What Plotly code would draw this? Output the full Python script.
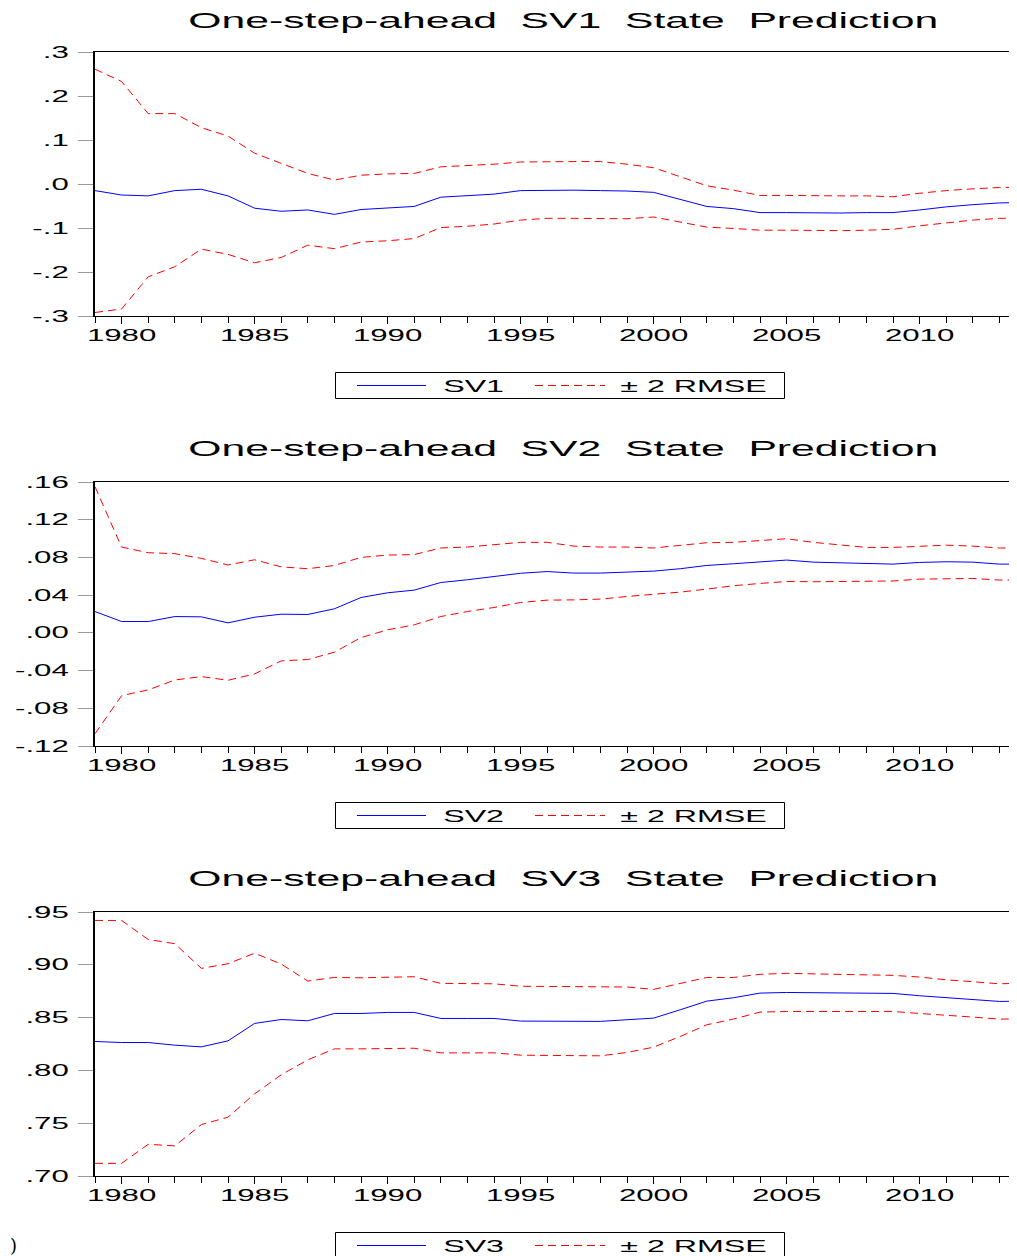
import plotly.graph_objects as go

years = list(range(1979, 2015))

sv1 = [-0.015, -0.025, -0.027, -0.015, -0.012, -0.027, -0.055, -0.062, -0.059, -0.069,
       -0.058, -0.054, -0.051, -0.030, -0.027, -0.023, -0.015, -0.014, -0.014, -0.015,
       -0.016, -0.019, -0.035, -0.051, -0.056, -0.065, -0.065, -0.066, -0.066, -0.065,
       -0.065, -0.059, -0.052, -0.047, -0.043, -0.042]
sv1_up = [0.261, 0.233, 0.160, 0.160, 0.128, 0.109, 0.070, 0.047, 0.024, 0.009,
          0.020, 0.023, 0.024, 0.039, 0.042, 0.045, 0.050, 0.051, 0.051, 0.051,
          0.045, 0.037, 0.017, -0.004, -0.014, -0.026, -0.026, -0.027, -0.027, -0.027,
          -0.029, -0.021, -0.015, -0.011, -0.008, -0.007]
sv1_lo = [-0.292, -0.284, -0.211, -0.188, -0.148, -0.160, -0.179, -0.167, -0.139, -0.147,
          -0.132, -0.129, -0.124, -0.099, -0.096, -0.091, -0.082, -0.078, -0.078, -0.079,
          -0.079, -0.075, -0.086, -0.098, -0.101, -0.105, -0.105, -0.106, -0.106, -0.105,
          -0.103, -0.095, -0.088, -0.082, -0.078, -0.077]

sv2 = [0.0226, 0.012, 0.012, 0.0173, 0.017, 0.0106, 0.0166, 0.0198, 0.0195, 0.0255,
       0.0375, 0.0425, 0.0453, 0.0534, 0.0563, 0.0598, 0.0632, 0.065, 0.0634, 0.0634,
       0.0644, 0.0655, 0.068, 0.0715, 0.0733, 0.0754, 0.0772, 0.075, 0.0743, 0.0729,
       0.0729, 0.0747, 0.0754, 0.075, 0.0729, 0.0729]
sv2_up = [0.155, 0.091, 0.085, 0.084, 0.079, 0.072, 0.0775, 0.070, 0.068, 0.0715,
          0.080, 0.0825, 0.083, 0.090, 0.091, 0.0935, 0.096, 0.096, 0.092, 0.091,
          0.091, 0.090, 0.093, 0.0956, 0.096, 0.0977, 0.0998, 0.096, 0.0935, 0.0906,
          0.0906, 0.092, 0.093, 0.092, 0.090, 0.090]
sv2_lo = [-0.107, -0.0666, -0.0605, -0.050, -0.0464, -0.0503, -0.0436, -0.0297, -0.0283, -0.0205,
          -0.005, 0.0032, 0.0085, 0.0173, 0.0226, 0.0269, 0.0322, 0.0347, 0.035, 0.0358,
          0.0386, 0.041, 0.0432, 0.0464, 0.050, 0.0524, 0.0545, 0.0542, 0.0542, 0.0545,
          0.055, 0.057, 0.0577, 0.0577, 0.056, 0.056]

sv3 = [0.8274, 0.8264, 0.8264, 0.8239, 0.8223, 0.828, 0.8445, 0.8482, 0.847, 0.8539,
       0.8539, 0.8549, 0.8549, 0.8492, 0.8492, 0.8492, 0.8467, 0.8467, 0.8464, 0.8464,
       0.848, 0.8495, 0.8574, 0.8656, 0.8688, 0.8732, 0.8738, 0.8735, 0.8732, 0.8732,
       0.8729, 0.8707, 0.8688, 0.8669, 0.8653, 0.8656]
sv3_up = [0.942, 0.942, 0.924, 0.920, 0.8966, 0.901, 0.911, 0.9007, 0.8846, 0.888,
          0.8877, 0.8884, 0.8887, 0.8824, 0.8824, 0.882, 0.8797, 0.8795, 0.8793, 0.879,
          0.879, 0.8767, 0.8827, 0.888, 0.888, 0.891, 0.8919, 0.8916, 0.891, 0.8906,
          0.890, 0.8884, 0.8858, 0.884, 0.882, 0.8827]
sv3_lo = [0.712, 0.712, 0.730, 0.7285, 0.7487, 0.7557, 0.7778, 0.7958, 0.81, 0.8204,
          0.8204, 0.821, 0.821, 0.8166, 0.8166, 0.8166, 0.8144, 0.8144, 0.8141, 0.8138,
          0.817, 0.822, 0.8321, 0.8432, 0.8486, 0.8552, 0.8558, 0.8558, 0.8555, 0.8552,
          0.8558, 0.8539, 0.8524, 0.8505, 0.8486, 0.8489]

series_names = ["SV1", "SV2", "SV3"]
titles = ["One-step-ahead  SV1  State  Prediction",
          "One-step-ahead  SV2  State  Prediction",
          "One-step-ahead  SV3  State  Prediction"]
band_label = "± 2 RMSE"

ytick_vals = [
    [0.3, 0.2, 0.1, 0.0, -0.1, -0.2, -0.3],
    [0.16, 0.12, 0.08, 0.04, 0.00, -0.04, -0.08, -0.12],
    [0.95, 0.90, 0.85, 0.80, 0.75, 0.70],
]
ytick_text = [
    [".3", ".2", ".1", ".0", "-.1", "-.2", "-.3"],
    [".16", ".12", ".08", ".04", ".00", "-.04", "-.08", "-.12"],
    [".95", ".90", ".85", ".80", ".75", ".70"],
]

# The page body keeps its default 8px margin (top/left), so the figure starts
# 8px into the window; it runs on to the window's right and bottom edges.
OFF = 8
W, H = 1017 - OFF, 1256 - OFF
FONT = "Arial, Liberation Sans, sans-serif"
BLUE = "#0000ff"
RED = "#ff0000"
DASH = "8px,5px"

plot_left_ref = 95
px_per_year = 26.6
x_range = [1979, 1979 + (W + OFF - plot_left_ref) / px_per_year]

panels = [(sv1, sv1_up, sv1_lo), (sv2, sv2_up, sv2_lo), (sv3, sv3_up, sv3_lo)]
for s in panels:
    for arr in s:
        assert len(arr) == len(years)

panel_tops = [52, 482, 912]
panel_h = 264
title_y = [21, 448, 878]
legend_y = [385.5, 815.5, 1245.5]


def px(x):
    return (x - OFF) / W


def py(y):
    return 1 - (y - OFF) / H


fig = go.Figure()
layout = dict(
    width=W, height=H,
    margin=dict(l=0, r=0, t=0, b=0, autoexpand=False),
    paper_bgcolor="white", plot_bgcolor="white",
    showlegend=False,
    font=dict(family=FONT, color="black"),
)
shapes = []
annotations = []

for i, (mid, up, lo) in enumerate(panels):
    k = "" if i == 0 else str(i + 1)
    xa, ya = "x" + k, "y" + k
    fig.add_trace(go.Scatter(x=years, y=up, mode="lines", xaxis=xa, yaxis=ya,
                             line=dict(color=RED, width=1, dash=DASH), name=band_label))
    fig.add_trace(go.Scatter(x=years, y=lo, mode="lines", xaxis=xa, yaxis=ya,
                             line=dict(color=RED, width=1, dash=DASH), name=band_label))
    fig.add_trace(go.Scatter(x=years, y=mid, mode="lines", xaxis=xa, yaxis=ya,
                             line=dict(color=BLUE, width=1), name=series_names[i]))
    top, bot = panel_tops[i], panel_tops[i] + panel_h
    layout["xaxis" + k] = dict(
        domain=[px(plot_left_ref), 1], range=x_range, anchor=ya, automargin=False,
        showline=True, linecolor="black", linewidth=1, mirror=True,
        showgrid=False, zeroline=False,
        ticks="outside", ticklen=7, tickcolor="black", tickwidth=1,
        tickmode="linear", tick0=1980, dtick=5,
        minor=dict(ticks="outside", ticklen=6, tickcolor="black", tickwidth=1,
                   tickmode="linear", tick0=1979, dtick=1, showgrid=False),
        tickfont=dict(family=FONT, size=16, color="black"),
        ticklabelstandoff=-2,
    )
    yv = ytick_vals[i]
    layout["yaxis" + k] = dict(
        domain=[py(bot), py(top)], range=[min(yv), max(yv)], anchor=xa, automargin=False,
        showline=True, linecolor="black", linewidth=2,
        showgrid=False, zeroline=False,
        ticks="outside", ticklen=15, tickcolor="#999999", tickwidth=1,
        tickmode="array", tickvals=yv, ticktext=ytick_text[i],
        tickfont=dict(family=FONT, size=16, color="black"),
        ticklabelstandoff=6,
    )
    annotations.append(dict(
        text=titles[i], xref="paper", yref="paper", x=px(563), y=py(title_y[i]),
        xanchor="center", yanchor="middle", showarrow=False,
        font=dict(family=FONT, size=21.9, color="black")))
    # legend box drawn by hand, like the reference's long line samples
    ly = legend_y[i]
    shapes.append(dict(type="rect", xref="paper", yref="paper",
                       x0=px(335.5), x1=px(784.5), y0=py(ly + 13), y1=py(ly - 13),
                       line=dict(color="black", width=1), fillcolor="white"))
    shapes.append(dict(type="line", xref="paper", yref="paper",
                       x0=px(357), x1=px(426), y0=py(ly), y1=py(ly),
                       line=dict(color=BLUE, width=1)))
    shapes.append(dict(type="line", xref="paper", yref="paper",
                       x0=px(535), x1=px(605), y0=py(ly), y1=py(ly),
                       line=dict(color=RED, width=1, dash=DASH)))
    annotations.append(dict(
        text=series_names[i], xref="paper", yref="paper", x=px(473.5), y=py(ly),
        xanchor="center", yanchor="middle", showarrow=False,
        font=dict(family=FONT, size=16.5, color="black")))
    annotations.append(dict(
        text=band_label, xref="paper", yref="paper", x=px(693.5), y=py(ly),
        xanchor="center", yanchor="middle", showarrow=False,
        font=dict(family=FONT, size=16.5, color="black")))

annotations.append(dict(
    text=")", xref="paper", yref="paper", x=0, y=py(1245),
    xanchor="left", yanchor="middle", showarrow=False,
    font=dict(family="DejaVu Serif, serif", size=18, color="black")))

layout["shapes"] = shapes
layout["annotations"] = annotations
fig.update_layout(**layout)

# The reference text is drawn horizontally stretched; reproduce that width.
post = """
var gd = document.getElementById('{plot_id}');
var sel = '.xtick text, .x2tick text, .x3tick text, .ytick text, .y2tick text, .y3tick text, .annotation-text';
gd.querySelectorAll(sel).forEach(function(t){
  if (t.textContent === ')') return;
  var L = t.getComputedTextLength();
  if (L > 0) {
    t.setAttribute('textLength', (L * 1.95).toFixed(2));
    t.setAttribute('lengthAdjust', 'spacingAndGlyphs');
  }
});
"""

fig.write_html("out.html", post_script=post, config={"displayModeBar": False})
